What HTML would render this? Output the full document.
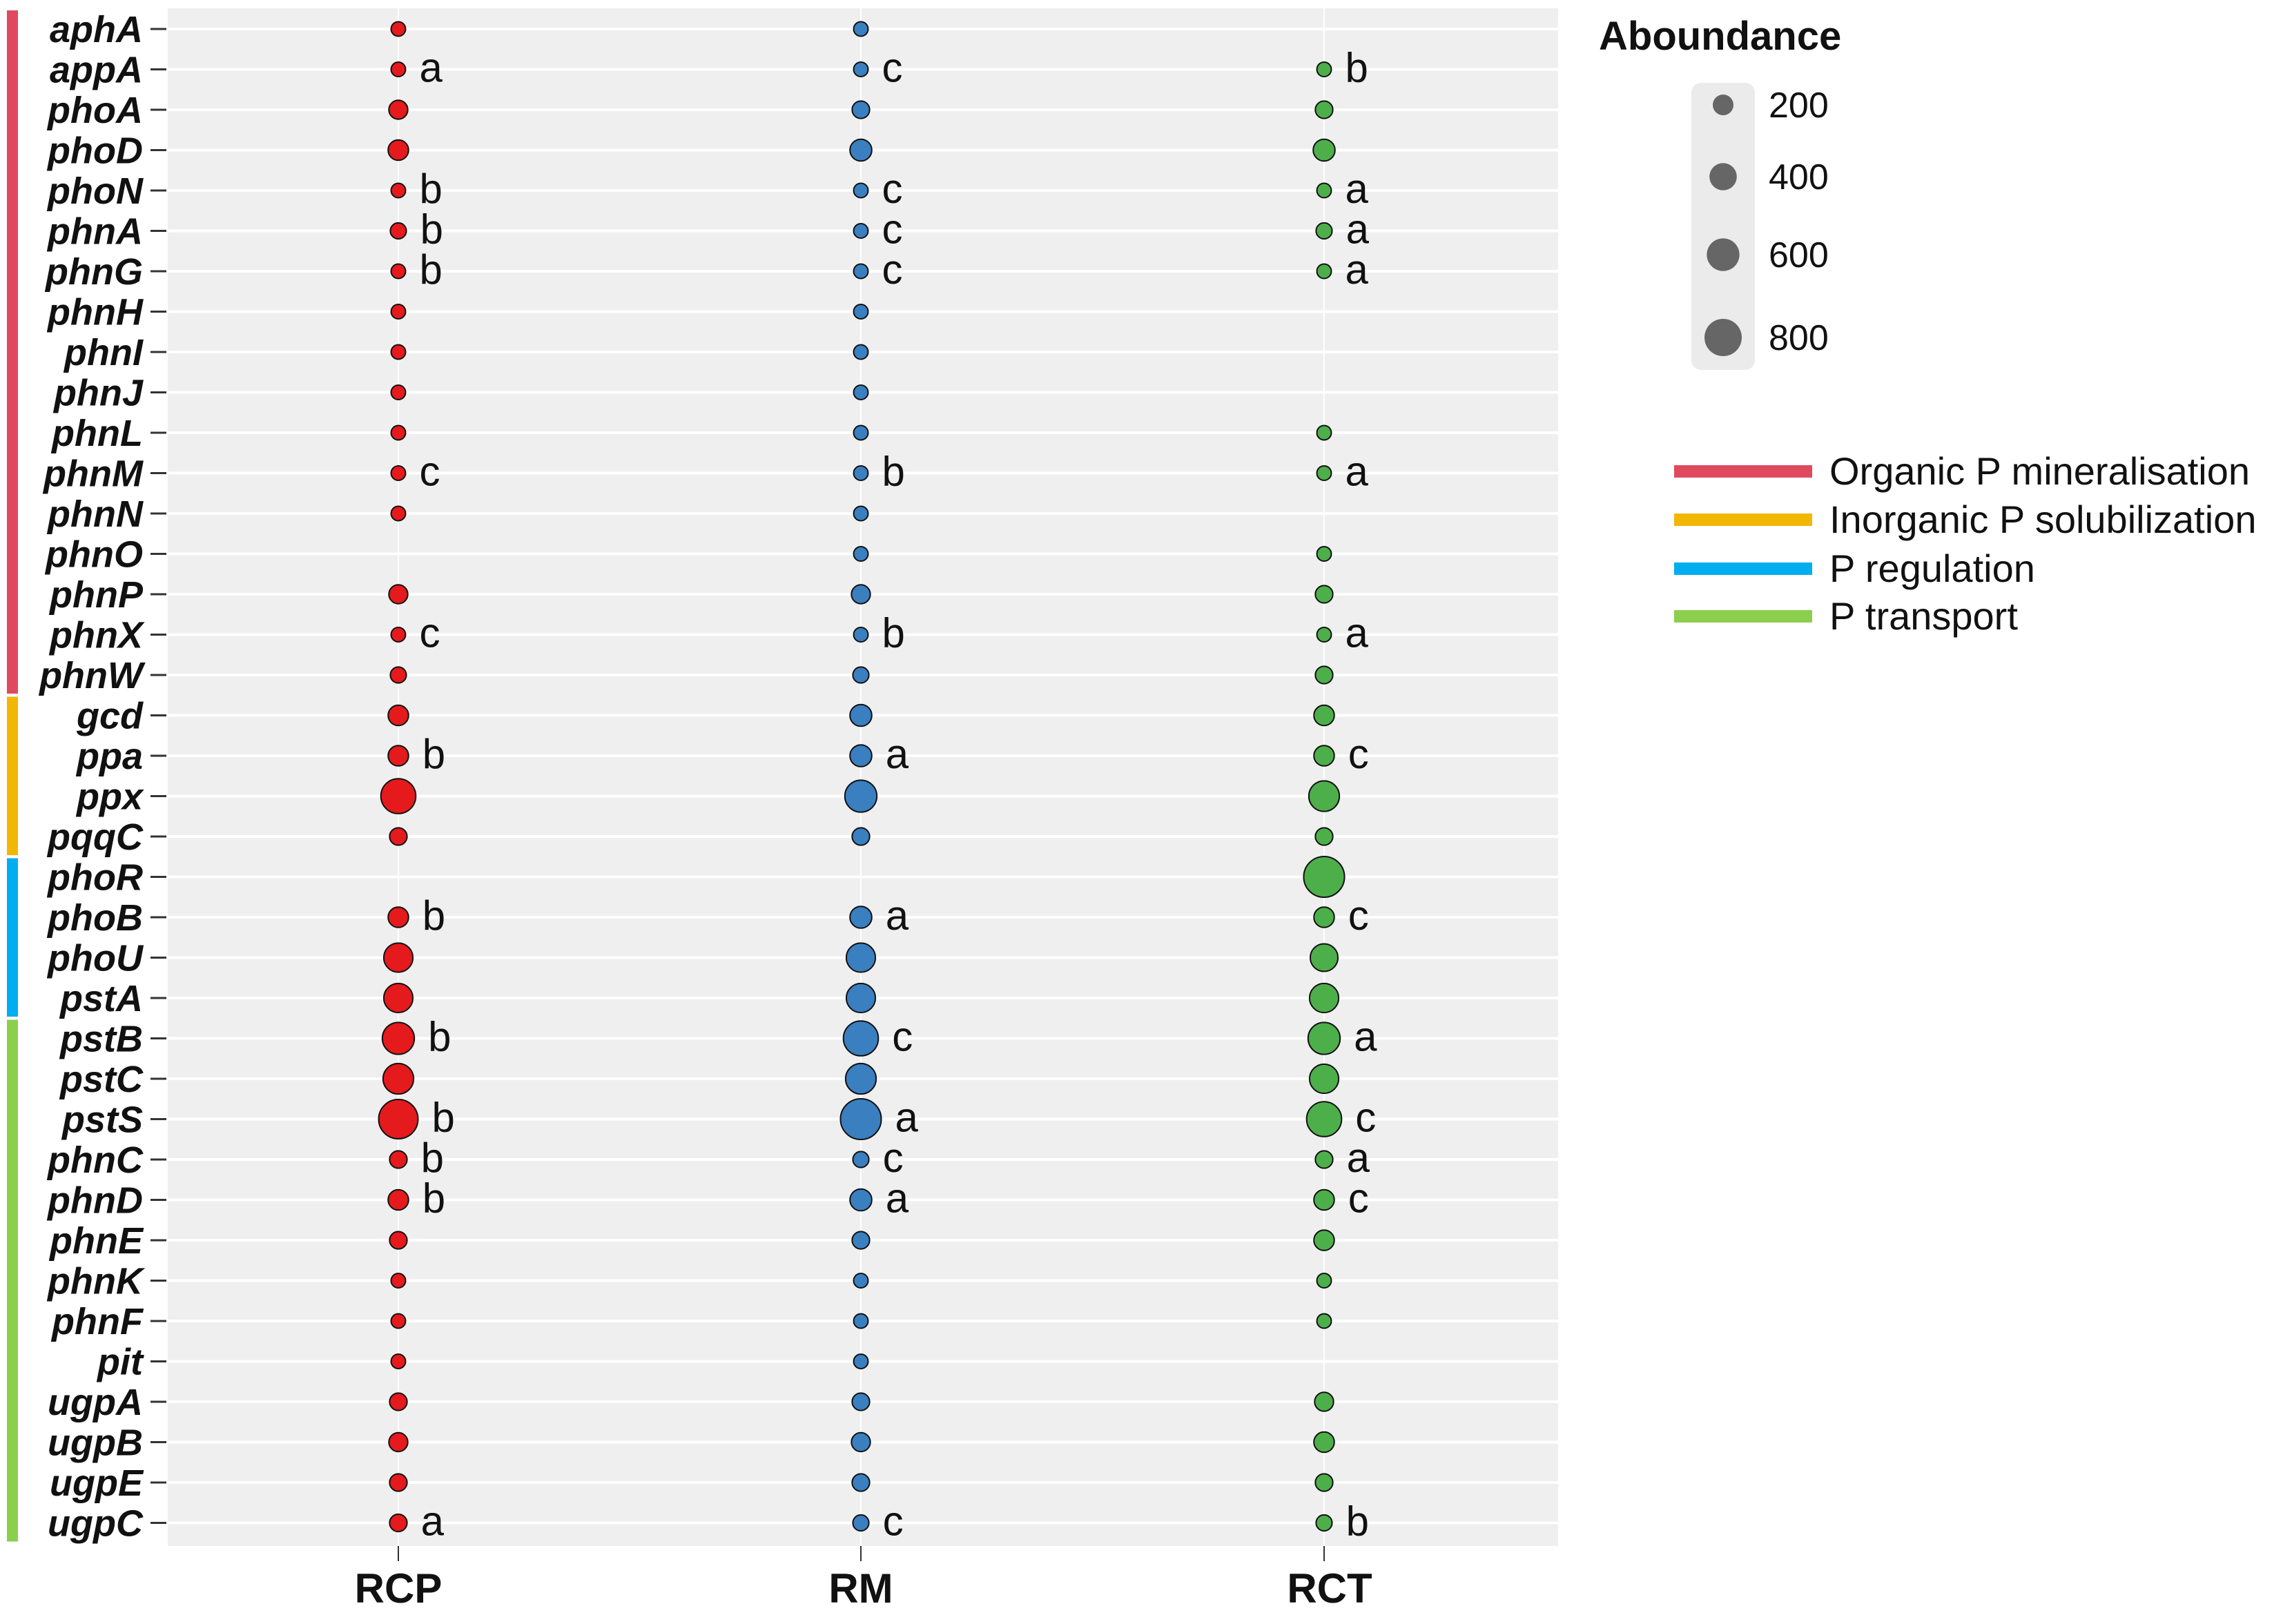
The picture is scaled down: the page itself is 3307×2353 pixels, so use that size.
<!DOCTYPE html>
<html><head><meta charset="utf-8"><style>
html,body{margin:0;padding:0;background:#fff;}
svg{display:block;font-family:"Liberation Sans",Arial,sans-serif;}
</style></head><body>
<svg id="chart" width="3307" height="2353" viewBox="0 0 3307 2353" xmlns="http://www.w3.org/2000/svg"></svg>
<script>
const genes=["aphA","appA","phoA","phoD","phoN","phnA","phnG","phnH","phnI","phnJ","phnL","phnM","phnN","phnO","phnP","phnX","phnW","gcd","ppa","ppx","pqqC","phoR","phoB","phoU","pstA","pstB","pstC","pstS","phnC","phnD","phnE","phnK","phnF","pit","ugpA","ugpB","ugpE","ugpC"];
const groups=["RCP","RM","RCT"];
const valRCP=[34,34,122,157,34,62,34,34,34,34,34,34,34,null,122,34,62,157,157,637,91,null,157,415,415,520,466,830,91,157,91,34,34,34,91,122,91,91];
const valRM=[34,34,91,193,34,34,34,34,34,34,34,34,34,34,122,34,62,193,193,520,91,null,193,415,415,637,466,900,62,193,91,34,34,34,91,122,91,62];
const valRCT=[null,34,91,193,34,62,34,null,null,null,34,34,null,34,91,34,91,157,157,466,91,900,157,365,415,520,415,637,91,157,157,34,34,null,122,157,91,62];
const letRCP=["","a","","","b","b","b","","","","","c","","","","c","","","b","","","","b","","","b","","b","b","b","","","","","","","","a"];
const letRM=["","c","","","c","c","c","","","","","b","","","","b","","","a","","","","a","","","c","","a","c","a","","","","","","","","c"];
const letRCT=["","b","","","a","a","a","","","","","a","","","","a","","","c","","","","c","","","a","","c","a","c","","","","","","","","b"];
const sizeTicks=[200,400,600,800];
const catNames=["Organic P mineralisation","Inorganic P solubilization","P regulation","P transport"];
const catColors=["#e04a5f","#f2b705","#00aeef","#8ccf4d"];
const catStart=[0,17,21,25];
const catEnd=[16,20,24,37];

const svg=document.getElementById('chart');
const NS="http://www.w3.org/2000/svg";
function mk(tag,attrs,parent){const e=document.createElementNS(NS,tag);for(const k in attrs)e.setAttribute(k,attrs[k]);(parent||svg).appendChild(e);return e;}
const PL=243,PR=2257,PT=12,PB=2240;
const y0=42,dy=58.5;
function yPos(i){return y0+i*dy;}
const colX=[577,1247,1918];
function xPos(j){return colX[j];}
function rScale(v){return Math.sqrt(80+0.88*v);}
const fills=["#e41a1c","#3a7fc0","#4daf4a"];
const vals=[valRCP,valRM,valRCT];
const lets=[letRCP,letRM,letRCT];

const bg=mk('rect',{x:PL,y:PT,width:PR-PL,height:PB-PT,fill:'#efefef'});


genes.forEach((g,i)=>{
  const l=mk('line',{x1:PL,x2:PR,y1:yPos(i),y2:yPos(i),stroke:'#fff','stroke-width':4});
  
  
});
const labX=[577,1247,1926];
groups.forEach((g,j)=>{
  const l=mk('line',{x1:xPos(j),x2:xPos(j),y1:PT,y2:PB,stroke:'#fff','stroke-width':2});
  
  
  const t=mk('line',{x1:xPos(j),x2:xPos(j),y1:PB,y2:PB+22,stroke:'#333','stroke-width':2});
  
  
  const tx=mk('text',{x:labX[j],y:2322,'text-anchor':'middle','font-size':60,'font-weight':'bold',fill:'#111'});
  tx.textContent=g;
  
  
});
genes.forEach((g,i)=>{
  const t=mk('line',{x1:218,x2:241,y1:yPos(i),y2:yPos(i),stroke:'#333','stroke-width':3});
  
  
  const tx=mk('text',{x:207,y:yPos(i)+19,'text-anchor':'end','font-size':54,'font-weight':'bold','font-style':'italic',fill:'#111'});
  tx.textContent=g;
  
  
});
catNames.forEach((c,k)=>{
  const b=mk('rect',{x:10,y:yPos(catStart[k])-27,width:16,height:(catEnd[k]-catStart[k])*dy+54,fill:catColors[k]});
  
  
});
groups.forEach((g,j)=>{
  genes.forEach((gn,i)=>{
    const v=vals[j][i];
    if(v==null)return;
    const r=rScale(v);
    const c=mk('circle',{cx:xPos(j),cy:yPos(i),r:r,fill:fills[j],stroke:'#111','stroke-width':2});
    
    
    const L=lets[j][i];
    if(L){
      const t=mk('text',{x:xPos(j)+r+20,y:yPos(i)+18,'font-size':60,fill:'#111'});
      t.textContent=L;
      
      
    }
  });
});
const lt=mk('text',{x:2316,y:72,'font-size':58,'font-weight':'bold',fill:'#111'});
lt.textContent='Aboundance';


const lb=mk('rect',{x:2450,y:120,width:92,height:416,rx:14,fill:'#ebebeb'});


const legY=[152,256,369,489];
sizeTicks.forEach((v,k)=>{
  const c=mk('circle',{cx:2496,cy:legY[k],r:rScale(v)-1,fill:'#666'});
  
  
  const t=mk('text',{x:2562,y:legY[k]+18,'font-size':52,fill:'#111'});
  t.textContent=v;
  
  
});
const catY=[683,753,824,893];
catNames.forEach((c,k)=>{
  const l=mk('rect',{x:2425,y:catY[k]-9,width:200,height:18,fill:catColors[k]});
  
  
  const t=mk('text',{x:2650,y:catY[k]+19,'font-size':56,fill:'#111'});
  t.textContent=c;
  
  
});
</script>
</body></html>
